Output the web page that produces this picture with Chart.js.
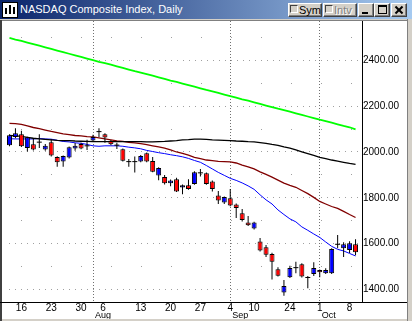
<!DOCTYPE html>
<html>
<head>
<meta charset="utf-8">
<title>NASDAQ Composite Index, Daily</title>
<script src="https://cdn.jsdelivr.net/npm/chart.js@4.4.1/dist/chart.umd.min.js"></script>
<style>
  html, body { margin: 0; padding: 0; background: #fff; }
  #win { position: relative; width: 412px; height: 321px; overflow: hidden; background: #fff; }
  #chart { position: absolute; left: 0; top: 0; }
  #titlebar { position: absolute; left: 0; top: 0; width: 412px; height: 19px;
    background: linear-gradient(to right, #0a246a, #a6caf0); }
  #caption { position: absolute; left: 20px; top: 3px; color: #fff; white-space: nowrap;
    font: 11px 'Liberation Sans', Arial, sans-serif; line-height: 13px; }
  #icon { position: absolute; left: 2px; top: 2px; width: 14px; height: 14px; background: #fff;
    border: 1px solid #000; }
  #icon i { position: absolute; width: 2px; background: #000; }
  .btn { position: absolute; top: 3px; height: 14px; box-sizing: border-box; background: #d4d0c8;
    border-top: 1px solid #fff; border-left: 1px solid #fff;
    border-right: 1px solid #404040; border-bottom: 1px solid #404040;
    box-shadow: inset -1px -1px #808080; font: 11px 'Liberation Sans', Arial, sans-serif;
    line-height: 11px; color: #000; }
  .btn .box { position: absolute; left: 1px; top: 1px; width: 8px; height: 8px;
    border-top: 1px solid #404040; border-left: 1px solid #404040;
    border-right: 1px solid #fff; border-bottom: 1px solid #fff; box-sizing: border-box; }
  .btn span { position: absolute; left: 10px; top: 1px; }
  .btn.off span { color: #808080; text-shadow: 1px 1px #fff; }
  .btn .min { position: absolute; left: 3px; top: 8px; width: 6px; height: 2px; background: #000; }
  .btn .max { position: absolute; left: 3px; top: 1px; width: 9px; height: 9px; box-sizing: border-box;
    border: 1px solid #000; border-top-width: 2px; }
  .btn .x1, .btn .x2 { position: absolute; left: 2px; top: 5px; width: 10px; height: 2px; background: #000; }
  .btn .x1 { transform: rotate(45deg); }
  .btn .x2 { transform: rotate(-45deg); }
  .edge { position: absolute; }
</style>
</head>
<body>
<div id="win">
  <canvas id="chart" width="412" height="321"></canvas>
  <div id="titlebar">
    <div id="icon"><i style="left:2px;top:5px;height:6px"></i><i style="left:6px;top:2px;height:9px"></i><i style="left:10px;top:4px;height:7px"></i></div>
    <div id="caption">NASDAQ Composite Index, Daily</div>
    <div class="btn" style="left:288px;width:34px"><b class="box"></b><span>Sym</span></div>
    <div class="btn off" style="left:323px;width:34px"><b class="box"></b><span>Intv</span></div>
    <div class="btn" style="left:358px;width:16px"><b class="min"></b></div>
    <div class="btn" style="left:374px;width:16px"><b class="max"></b></div>
    <div class="btn" style="left:391px;width:16px"><b class="x1"></b><b class="x2"></b></div>
  </div>
  <div class="edge" style="left:0;top:19px;width:412px;height:1px;background:#d4d0c8"></div>
  <div class="edge" style="left:0;top:20px;width:408px;height:1px;background:#808080"></div>
  <div class="edge" style="left:0;top:20px;width:2px;height:301px;background:#404040"></div>
  <div class="edge" style="left:0;top:302px;width:408px;height:1px;background:#000"></div>
  <div class="edge" style="left:407px;top:19px;width:1px;height:302px;background:#808080"></div>
  <div class="edge" style="left:408px;top:19px;width:4px;height:302px;background:#d4d0c8"></div>
  <div class="edge" style="left:2px;top:319px;width:405px;height:2px;background:#d4d0c8"></div>
</div>
<script>
// trading days shown (Jul 12 - Oct 9, 2001)
const days = [
  'Jul 12','Jul 13','Jul 16','Jul 17','Jul 18','Jul 19','Jul 20','Jul 23','Jul 24','Jul 25',
  'Jul 26','Jul 27','Jul 30','Jul 31','Aug 1','Aug 2','Aug 3','Aug 6','Aug 7','Aug 8',
  'Aug 9','Aug 10','Aug 13','Aug 14','Aug 15','Aug 16','Aug 17','Aug 20','Aug 21','Aug 22',
  'Aug 23','Aug 24','Aug 27','Aug 28','Aug 29','Aug 30','Aug 31','Sep 4','Sep 5','Sep 6',
  'Sep 7','Sep 10','Sep 17','Sep 18','Sep 19','Sep 20','Sep 21','Sep 24','Sep 25','Sep 26',
  'Sep 27','Sep 28','Oct 1','Oct 2','Oct 3','Oct 4','Oct 5','Oct 8','Oct 9'
];

const openP = [
  2029,2065,2078,2017,2034,2043,2011,2043,1978,1958,
  1976,2015,2035,2027,2050,2089,2078,2048,2030,2012,
  1958,1958,1958,1995,1961,1897,1891,1864,1881,1845,
  1855,1860,1909,1907,1871,1810,1779,1798,1771,1733,
  1692,1666,1609,1584,1555,1488,1386,1453,1495,1510,
  1452,1467,1485,1471,1471,1597,1580,1572,1597
];
const highP = [
  2077,2104,2093,2067,2060,2078,2035,2057,1981,1985,
  2024,2039,2040,2053,2075,2104,2082,2052,2040,2015,
  1969,1980,1987,1998,1978,1933,1900,1880,1888,1858,
  1881,1916,1926,1911,1875,1830,1806,1838,1775,1751,
  1720,1695,1624,1594,1560,1497,1441,1503,1521,1514,
  1459,1519,1487,1492,1580,1638,1606,1610,1619
];
const lowP = [
  2025,2060,2022,2002,2007,2017,2005,1980,1936,1936,
  1972,2005,2012,2009,2047,2065,2040,2030,2013,1958,
  1936,1910,1955,1955,1912,1877,1858,1850,1825,1816,
  1835,1857,1893,1857,1828,1773,1773,1763,1712,1696,
  1677,1662,1566,1541,1443,1456,1372,1450,1471,1452,
  1405,1459,1453,1467,1467,1580,1541,1559,1549
];
const closeP = [
  2073,2082,2025,2064,2011,2043,2027,1985,1955,1982,
  2021,2027,2015,2027,2065,2089,2063,2034,2030,1962,
  1958,1958,1983,1958,1914,1930,1864,1876,1828,1855,
  1838,1912,1909,1860,1838,1788,1803,1766,1755,1703,
  1680,1692,1570,1551,1521,1460,1415,1493,1495,1456,
  1452,1493,1475,1485,1576,1597,1597,1602,1562
];

// moving averages
const maBlue = [
  2058,2057,2057,2057,2057,2059,2057,2056,2051,2046,
  2044,2040,2038,2033,2027,2025,2027,2027,2027,2025,
  2021,2018,2014,2007,2002,1997,1993,1988,1984,1979,
  1972,1963,1955,1941,1926,1911,1898,1885,1876,1865,
  1852,1837,1813,1791,1773,1747,1727,1708,1695,1673,
  1658,1642,1627,1607,1588,1575,1568,1557,1546
];
const maRed = [
  2125,2124,2121,2114,2107,2102,2096,2090,2085,2079,
  2076,2072,2070,2067,2066,2062,2057,2053,2049,2046,
  2042,2040,2037,2032,2027,2022,2017,2009,2000,1994,
  1986,1977,1971,1965,1962,1959,1958,1957,1952,1943,
  1935,1926,1913,1902,1890,1877,1864,1854,1846,1832,
  1818,1802,1784,1773,1762,1754,1741,1727,1714
];
const maBlack = [
  2072,2070,2068,2064,2060,2057,2055,2053,2051,2050,
  2050,2048,2047,2046,2045,2045,2045,2045,2045,2045,
  2045,2045,2045,2044,2044,2045,2046,2048,2050,2053,
  2054,2056,2056,2055,2053,2052,2051,2050,2048,2047,
  2045,2044,2041,2038,2033,2029,2022,2017,2009,2001,
  1993,1985,1977,1971,1965,1960,1955,1950,1946
];
const maGreen = [
  2498,2491,2485,2478,2471,2464,2457,2450,2443,2436,
  2429,2422,2415,2408,2401,2394,2388,2381,2374,2367,
  2360,2353,2347,2340,2333,2326,2319,2312,2306,2299,
  2292,2285,2278,2271,2265,2258,2251,2244,2237,2230,
  2224,2217,2210,2203,2196,2189,2183,2176,2169,2162,
  2155,2148,2141,2135,2128,2121,2114,2108,2099
];

// axis labels
const xTickAt = [2, 7, 12, 15.7, 22, 27, 32, 37, 41, 47, 52, 57];
const xTickText = ['16','23','30','6','13','20','27','4','10','24','1','8'];
const monthNames = ['Aug','Sep','Oct'];
const monthStart = ['Aug 1','Sep 4','Oct 1'];
const yGrid = [1400,1500,1600,1700,1800,1900,2000,2100,2200,2300,2400,2500];
const yMin = 1345, yMax = 2572;

const monthIdx = monthStart.map(d => days.indexOf(d));
const labelFont = { family: "'Liberation Sans', Arial, sans-serif", size: 10 };

const pts = arr => arr.map((v, i) => ({ x: i, y: v }));
const isUp = i => closeP[i] > openP[i];

const monthLabels = {
  id: 'monthLabels',
  afterDraw(c) {
    const sx = c.scales.x, ctx = c.ctx;
    ctx.save();
    ctx.font = "9px 'Liberation Sans', Arial, sans-serif";
    ctx.fillStyle = '#000';
    ctx.textAlign = 'left';
    ctx.textBaseline = 'alphabetic';
    monthNames.forEach((m, k) => {
      ctx.fillText(m, sx.getPixelForValue(monthIdx[k]) + 2, 318);
    });
    ctx.restore();
  }
};

const lineSet = (data, color, width) => ({
  type: 'line', data: pts(data), borderColor: color, borderWidth: width,
  pointRadius: 0, tension: 0, fill: false, order: 5
});

new Chart(document.getElementById('chart'), {
  type: 'bar',
  data: {
    datasets: [
      lineSet(maGreen, '#00ff00', 1.8),
      lineSet(maBlack, '#000000', 1.3),
      lineSet(maRed, '#800000', 1.3),
      lineSet(maBlue, '#0000ff', 1),
      {
        // wicks
        data: days.map((d, i) => ({ x: i, y: [lowP[i], highP[i]] })),
        backgroundColor: '#000', borderWidth: 0, barThickness: 1,
        grouped: false, inflateAmount: 0, order: 3
      },
      {
        // bodies
        data: days.map((d, i) => ({ x: i, y: openP[i] === closeP[i] ? null : [openP[i], closeP[i]] })),
        backgroundColor: c => isUp(c.dataIndex) ? '#0000ff' : '#ff0000',
        borderColor: '#000', borderWidth: 1, borderSkipped: false,
        barThickness: 5, grouped: false, inflateAmount: 0, order: 2
      },
      {
        // crosses (open == close)
        type: 'line', showLine: false,
        data: days.map((d, i) => ({ x: i, y: openP[i] === closeP[i] ? closeP[i] : null })),
        pointStyle: 'line', pointRadius: 2.5, pointBorderWidth: 1,
        pointBorderColor: '#000', pointBackgroundColor: '#000', order: 1
      }
    ]
  },
  options: {
    responsive: false,
    animation: false,
    layout: { padding: { left: 3, right: 7, top: 21, bottom: 2 } },
    plugins: { legend: { display: false }, tooltip: { enabled: false } },
    scales: {
      x: {
        type: 'linear', min: -0.75, max: 59.083, offset: false,
        afterBuildTicks: s => {
          s.ticks = [...new Set([...xTickAt, ...monthIdx])].sort((a, b) => a - b).map(v => ({ value: v }));
        },
        afterFit: s => { s.height = 17; },
        ticks: {
          autoSkip: false, maxRotation: 0, padding: 0, color: '#000', font: labelFont,
          callback: v => { const k = xTickAt.indexOf(v); return k < 0 ? '' : xTickText[k]; }
        },
        grid: {
          offset: false, drawTicks: false, lineWidth: 1,
          color: c => (c.tick && monthIdx.includes(c.tick.value)) ? '#707070' : 'rgba(0,0,0,0)'
        },
        border: { display: true, color: '#000', dash: [1, 2] }
      },
      y: {
        position: 'right', min: yMin, max: yMax,
        afterBuildTicks: s => { s.ticks = yGrid.map(v => ({ value: v })); },
        afterFit: s => { s.width = 43; },
        ticks: {
          padding: 1, color: '#000', font: labelFont,
          callback: v => v % 200 === 0 ? v.toFixed(2) : ''
        },
        grid: { drawTicks: false, lineWidth: 1, color: '#a0a0a0' },
        border: {
          display: true, color: '#000',
          dash: c => (c.tick && c.tick.value % 200 !== 0) ? [1, 29] : [1, 5],
          dashOffset: c => (c.tick && c.tick.value % 200 !== 0) ? 14 : 2
        }
      }
    }
  },
  plugins: [monthLabels]
});
</script>
</body>
</html>
